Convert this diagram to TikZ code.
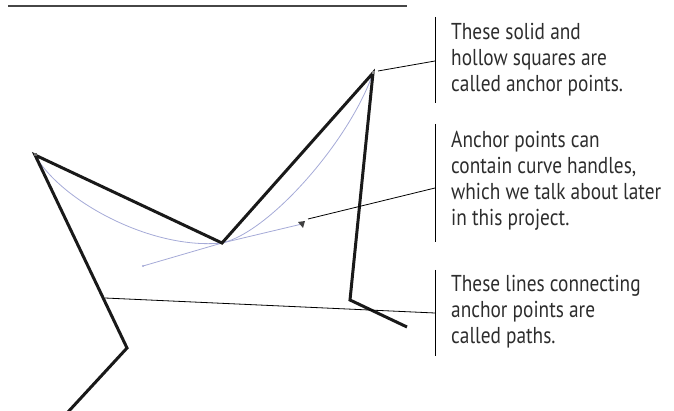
\documentclass[tikz,border=0pt]{standalone}
\usepackage{fontspec}
\setmainfont[FakeStretch=0.84]{PT Sans}
\usetikzlibrary{calc}
\definecolor{handleblue}{RGB}{165,170,215}
\definecolor{rulegray}{RGB}{70,70,70}
\definecolor{textgray}{RGB}{45,45,45}

\begin{document}
\begin{tikzpicture}[x=1pt,y=-1pt,
    pathline/.style={line width=3pt,line join=miter,black!90},
    handle/.style={handleblue,line width=0.8pt},
    leader/.style={line width=0.8pt},
    callout/.style={anchor=north west,inner sep=0pt,align=left,
      font=\fontsize{23}{26}\selectfont,text=textgray}]
    \useasboundingbox (0,0) rectangle (674,411);

    % Rule at the top
    \draw[rulegray,line width=1.6pt] (8,6) -- (407,6);

    % Anchor points of the path
    \coordinate (a0) at (68,412);
    \coordinate (a1) at (127,348);
    \coordinate (a2) at (35,155);
    \coordinate (a3) at (222,243);
    \coordinate (a4) at (373,73);
    \coordinate (a5) at (350,300);
    \coordinate (a6) at (407,327);

    % Curve handles
    \coordinate (h1) at (143,266);
    \coordinate (h2) at (302,224);

    % Curved segments (light blue)
    \draw[handle] (a2) .. controls (60,200) and (150,250) .. (a3);
    \draw[handle] (a3) .. controls (270,232) and (350,140) .. (a4);
    \draw[handle] (h1) -- (a3) -- (h2);
    \fill[handleblue] (h1) circle (1.2);
    \fill[black!75] ($(h2)+(-4,-2)$) -- ($(h2)+(3,-3)$) -- ($(h2)+(1,4)$) -- cycle;

    % The path
    \draw[pathline] (a0) -- (a1) -- (a2) -- (a3) -- (a4) -- (a5) -- (a6);
    \fill[black!60] ($(a2)+(-1.5,-1.5)$) rectangle ($(a2)+(1.5,1.5)$);
    \fill[black!45] ($(a4)+(-1.5,-1.5)$) rectangle ($(a4)+(1.5,1.5)$);

    % Callout texts
    \node[callout] (t1) at (451,23.5) {These solid and\\hollow squares are\\called anchor points.};
    \node[callout] (t2) at (451,131) {Anchor points can\\contain curve handles,\\which we talk about later\\in this project.};
    \node[callout] (t3) at (451,275) {These lines connecting\\anchor points are\\called paths.};

    % Bars beside the texts
    \coordinate (b1) at (435,17);  \coordinate (e1) at (435,103);
    \coordinate (b2) at (435,124); \coordinate (e2) at (435,242);
    \coordinate (b3) at (435,270); \coordinate (e3) at (435,356);
    \draw[leader] (b1) -- (e1);
    \draw[leader] (b2) -- (e2);
    \draw[leader] (b3) -- (e3);

    % Leader lines
    \coordinate (s1) at (378,71);  \coordinate (m1) at (435,61);
    \coordinate (s2) at (308,219); \coordinate (m2) at (435,188);
    \coordinate (s3) at (105,298); \coordinate (m3) at (435,313);
    \draw[leader] (s1) -- (m1);
    \draw[leader] (s2) -- (m2);
    \draw[leader] (s3) -- (m3);

\end{tikzpicture}
\end{document}
